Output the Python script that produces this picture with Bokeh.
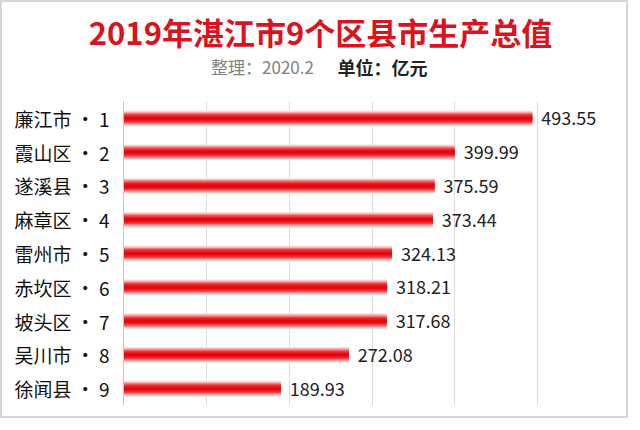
from bokeh.plotting import figure
from bokeh.models import ColumnDataSource, FactorRange, Range1d
from bokeh.layouts import column
from bokeh.core.properties import value
from bokeh.embed import file_html
from bokeh.resources import INLINE

districts = ["廉江市", "霞山区", "遂溪县", "麻章区", "雷州市", "赤坎区", "坡头区", "吴川市", "徐闻县"]
ranks = [1, 2, 3, 4, 5, 6, 7, 8, 9]
gdp = [493.55, 399.99, 375.59, 373.44, 324.13, 318.21, 317.68, 272.08, 189.93]

title_text = "2019年湛江市9个区县市生产总值"
note_text = "整理：2020.2"
unit_text = "单位：亿元"

FONT = "Noto Sans CJK SC"
W = 624
TOP_H = 99
CH_H = 414 - TOP_H

# ---- header figure (title + subtitle) ----
h = figure(width=W, height=TOP_H, output_backend="svg", toolbar_location=None,
           x_range=Range1d(0, W), y_range=Range1d(TOP_H, 0),
           min_border=0, outline_line_color=None)
h.axis.visible = False
h.grid.visible = False
h.text(x=[318], y=[29], text=[title_text], text_align="center", text_baseline="middle",
       text_font=value(FONT), text_font_size="31px", text_font_style="bold", text_color="#d9141c")
h.text(x=[260], y=[64], text=[note_text], text_align="center", text_baseline="middle",
       text_font=value(FONT), text_font_size="17px", text_color="#808080")
h.text(x=[380], y=[64], text=[unit_text], text_align="center", text_baseline="middle",
       text_font=value(FONT), text_font_size="18px", text_font_style="bold", text_color="#222222")

# ---- chart ----
labels = [f"{d} · {r}" for d, r in zip(districts, ranks)]
src = ColumnDataSource(dict(cat=labels, v=gdp, t=[f"{x:.2f}" for x in gdp]))

p = figure(width=W, height=CH_H, output_backend="svg", toolbar_location=None,
           y_range=FactorRange(factors=labels[::-1]), x_range=Range1d(0, 600),
           min_border_left=121, min_border_right=6, min_border_top=0, min_border_bottom=11,
           outline_line_color=None)

for fig in (h, p):
    try:
        fig.frame_align = False
    except Exception:
        pass

layers = [(0.46, "#fde0e0"), (0.40, "#f9b4b4"), (0.33, "#f47c7c"), (0.26, "#ee4346"),
          (0.18, "#e81c22"), (0.08, "#e0080f")]
for hh, c in layers:
    p.hbar(y="cat", right="v", left=0, height=hh, source=src, fill_color=c, line_color=None)

p.text(x="v", y="cat", text="t", source=src, x_offset=9, text_baseline="middle",
       text_font=value(FONT), text_font_size="18px", text_color="#222222")

p.xaxis.visible = False
p.xgrid.ticker = [0, 100, 200, 300, 400, 500, 600]
p.xgrid.grid_line_color = "#dcdcdc"
p.ygrid.grid_line_color = None
p.yaxis.axis_line_color = "#c8c8c8"
p.yaxis.major_tick_line_color = None
p.yaxis.minor_tick_line_color = None
p.yaxis.major_label_text_font = FONT
p.yaxis.major_label_text_font_size = "19px"
p.yaxis.major_label_text_color = "#111111"
p.yaxis.major_label_standoff = 8

layout = column(h, p, spacing=0,
                styles={"border": "2px solid #d6d6d6", "box-sizing": "border-box"})

open("out.html", "w").write(file_html(layout, INLINE))
